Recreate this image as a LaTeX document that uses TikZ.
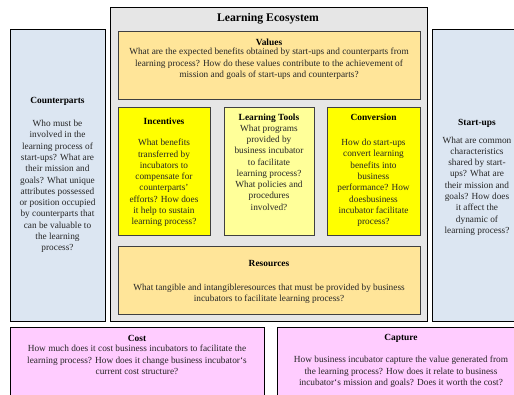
\documentclass[tikz,border=0pt]{standalone}
\usepackage{fontspec}
\setmainfont{Liberation Serif}
\usetikzlibrary{shadows}
\definecolor{lblue}{HTML}{DCE6F2}
\definecolor{egrey}{HTML}{E6E6E6}
\definecolor{lorange}{HTML}{FFE599}
\definecolor{yel}{HTML}{FFFF00}
\definecolor{lyel}{HTML}{FFFF99}
\definecolor{pink}{HTML}{FFCCFF}
\tikzset{
  outerbox/.style={draw=black, line width=0.8pt, anchor=north west, inner sep=0pt, outer sep=0pt},
  innerbox/.style={draw=black!75, line width=1pt, anchor=north west, inner sep=0pt, outer sep=0pt,
     drop shadow={shadow xshift=0.8pt, shadow yshift=-0.8pt, fill=black!50, opacity=1}},
  ttl/.style={font=\fontsize{9.4}{11}\selectfont\bfseries, inner sep=0pt, anchor=center},
  bigttl/.style={font=\fontsize{11.7}{13}\selectfont\bfseries, inner sep=0pt, anchor=center},
  body/.style={font=\fontsize{9.3}{11.3}\selectfont, align=center, inner sep=0pt, anchor=center, text=black!85},
}
\begin{document}
\begin{tikzpicture}[x=1pt,y=-1pt]
\useasboundingbox (0,0) rectangle (514,394);
\clip (0,0) rectangle (514,394);
% outer boxes
\node[outerbox, fill=lblue, minimum width=95pt, minimum height=292pt] (cp) at (10,29) {};
\node[outerbox, fill=egrey, minimum width=317pt, minimum height=314pt] (eco) at (110,7) {};
\node[outerbox, fill=lblue, minimum width=95pt, minimum height=292pt] (su) at (432,29) {};
\node[outerbox, fill=pink, minimum width=254pt, minimum height=75pt] (cost) at (10,327) {};
\node[outerbox, fill=pink, minimum width=256pt, minimum height=75pt] (cap) at (277,327) {};
% inner boxes
\node[innerbox, fill=lorange, minimum width=302pt, minimum height=68pt] (val) at (118,31) {};
\node[innerbox, fill=yel, minimum width=92pt, minimum height=128pt] (inc) at (118,107) {};
\node[innerbox, fill=lyel, minimum width=90pt, minimum height=128pt] (lt) at (224,107) {};
\node[innerbox, fill=yel, minimum width=93pt, minimum height=128pt] (conv) at (327,107) {};
\node[innerbox, fill=lorange, minimum width=302pt, minimum height=68pt] (res) at (118,246) {};
% texts
\node[bigttl] (ecot) at (268,19) {Learning Ecosystem};
\node[ttl] (cpt) at (57.5,101) {Counterparts};
\node[body] (cpb) at (57.5,186.5) {Who must be\\involved in the\\learning process of\\start-ups? What are\\their mission and\\goals? What unique\\attributes possessed\\or position occupied\\by counterparts that\\can be valuable to\\the learning\\process?};
\node[ttl] (sut) at (477,123) {Start-ups};
\node[body] (sub) at (477,186) {What are common\\characteristics\\shared by start-\\ups? What are\\their mission and\\goals? How does\\it affect the\\dynamic of\\learning process?};
\node[ttl] (valt) at (269,42) {Values};
\node[body] (valb) at (269,64) {What are the expected benefits obtained by start-ups and counterparts from\\learning process? How do these values contribute to the achievement of\\mission and goals of start-ups and counterparts?};
\node[ttl] (inct) at (164,121) {Incentives};
\node[body] (incb) at (164,183) {What benefits\\transferred by\\incubators to\\compensate for\\counterparts'\\efforts? How does\\it help to sustain\\learning process?};
\node[ttl] (ltt) at (269,118) {Learning Tools};
\node[body] (ltb) at (269,167.5) {What programs\\provided by\\business incubator\\to facilitate\\learning process?\\What policies and\\procedures\\involved?};
\node[ttl] (convt) at (373.5,117) {Conversion};
\node[body] (convb) at (373.5,183) {How do start-ups\\convert learning\\benefits into\\business\\performance? How\\doesbusiness\\incubator facilitate\\process?};
\node[ttl] (rest) at (269,263) {Resources};
\node[body] (resb) at (269,293.5) {What tangible and intangibleresources that must be provided by business\\incubators to facilitate learning process?};
\node[ttl] (costt) at (137,338) {Cost};
\node[body] (costb) at (137,360) {How much does it cost business incubators to facilitate the\\learning process? How does it change business incubator`s\\current cost structure?};
\node[ttl] (capt) at (401,338) {Capture};
\node[body] (capb) at (401,372) {How business incubator capture the value generated from\\the learning process? How does it relate to business\\incubator`s mission and goals? Does it worth the cost?};
\end{tikzpicture}
\end{document}
